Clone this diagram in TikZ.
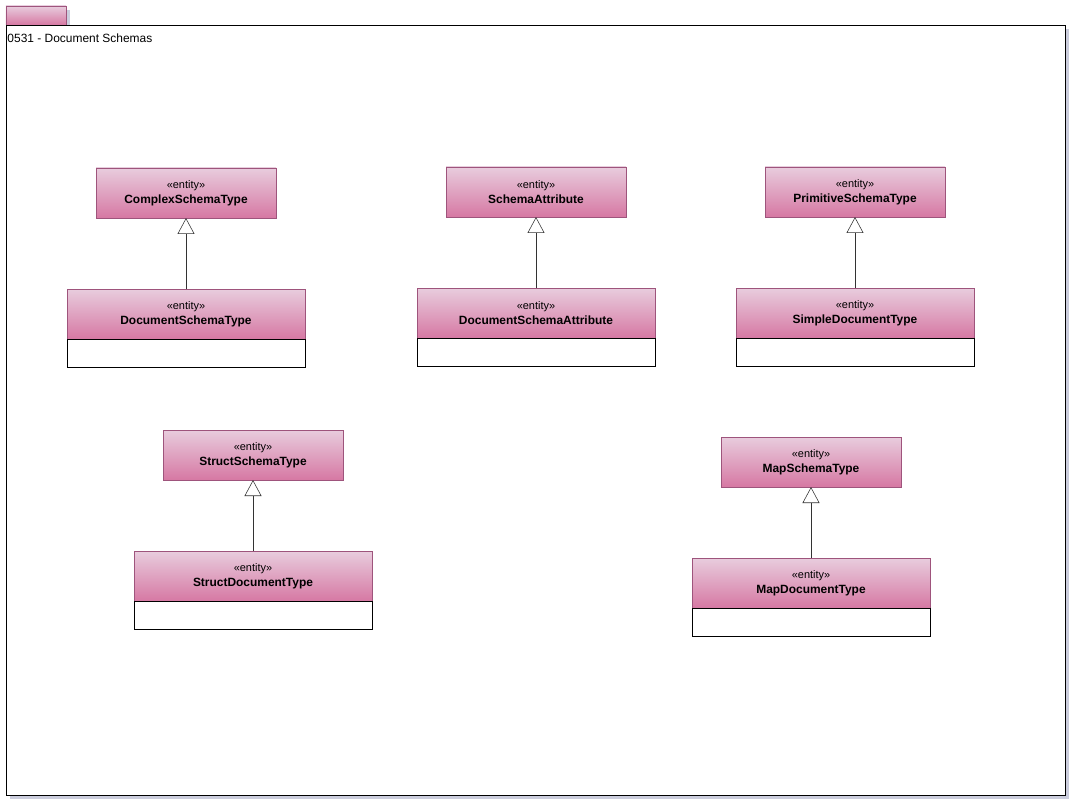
\documentclass[tikz,border=0pt]{standalone}
\usepackage{fontspec}
\setmainfont{Liberation Sans}
\usetikzlibrary{arrows.meta,positioning,shadows}

\definecolor{entitytop}{RGB}{232,204,221}
\definecolor{entitybot}{RGB}{214,120,163}
\definecolor{entityline}{RGB}{158,84,124}
\definecolor{shadowgray}{RGB}{190,192,212}

\newcommand{\entity}[1]{{\fontsize{7.8}{9}\selectfont «entity»}\\[0pt]{\bfseries #1}}

\begin{document}
\begin{tikzpicture}[
    node distance=1.78cm and 0cm,
    entity/.style={rectangle, draw=entityline, top color=entitytop, bottom color=entitybot, minimum width=4.5cm, minimum height=1.25cm, align=center, inner sep=0pt, outer sep=0pt, font=\fontsize{8.5}{10.5}\selectfont},
    subentity/.style={entity, minimum width=5.95cm},
    attrs/.style={rectangle, draw, fill=white, minimum width=5.95cm, minimum height=0.7cm, inner sep=0pt, outer sep=0pt, below=0cm of #1},
    arrow/.style={draw=black!80, -{Triangle[open, fill=white, width=0.425cm, length=0.4cm]}},
    frame/.style={rectangle, draw, line width=0.7pt, inner sep=0pt, outer sep=0pt, drop shadow={shadow xshift=0.09cm, shadow yshift=-0.09cm, fill=shadowgray, opacity=0.8}}
]
\useasboundingbox (0,0) rectangle (27.05,-20.3);

% Package frame
\node[frame, draw=entityline, line width=0.4pt, top color=entitytop, bottom color=entitybot, anchor=south west, minimum width=1.5cm, minimum height=0.475cm] (tab) at (0.15,-0.625) {};
\node[frame, fill=white, anchor=north west, minimum width=26.475cm, minimum height=19.25cm] (pkg) at (0.15,-0.625) {};
\node[anchor=north west, inner sep=0pt, font=\fontsize{8.5}{10}\selectfont] (title) at (0.18,-0.85) {0531 - Document Schemas};

% Top row
\node[entity] (complex) at (4.65,-4.825) {\entity{ComplexSchemaType}};
\node[entity] (schemaattr) at (13.4,-4.8) {\entity{SchemaAttribute}};
\node[entity] (primitive) at (21.375,-4.8) {\entity{PrimitiveSchemaType}};

\node[subentity, below=of complex] (docschema) {\entity{DocumentSchemaType}};
\node[attrs=docschema] (docschemabody) {};
\node[subentity, below=of schemaattr] (docattr) {\entity{DocumentSchemaAttribute}};
\node[attrs=docattr] (docattrbody) {};
\node[subentity, below=of primitive] (simpledoc) {\entity{SimpleDocumentType}};
\node[attrs=simpledoc] (simpledocbody) {};

% Bottom row
\node[entity] (struct) at (6.325,-11.375) {\entity{StructSchemaType}};
\node[entity] (map) at (20.275,-11.55) {\entity{MapSchemaType}};

\node[subentity, below=of struct] (structdoc) {\entity{StructDocumentType}};
\node[attrs=structdoc] (structdocbody) {};
\node[subentity, below=of map] (mapdoc) {\entity{MapDocumentType}};
\node[attrs=mapdoc] (mapdocbody) {};

% Generalizations
\draw[arrow] (docschema.north) -- (complex.south);
\draw[arrow] (docattr.north) -- (schemaattr.south);
\draw[arrow] (simpledoc.north) -- (primitive.south);
\draw[arrow] (structdoc.north) -- (struct.south);
\draw[arrow] (mapdoc.north) -- (map.south);
\end{tikzpicture}
\end{document}
